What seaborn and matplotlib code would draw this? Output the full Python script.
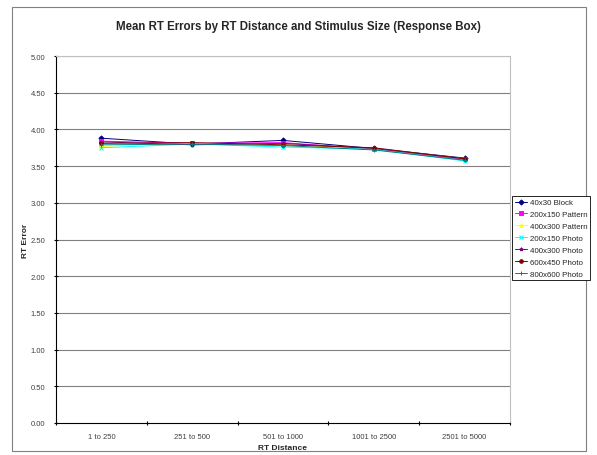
import pandas as pd
import matplotlib.pyplot as plt
import seaborn as sns
from matplotlib.patches import Rectangle

# Dados
distancias = ['1 to 250', '251 to 500', '501 to 1000', '1001 to 2500', '2501 to 5000']
tamanhos = ['40x30 Block', '200x150 Pattern', '400x300 Pattern', '200x150 Photo',
            '400x300 Photo', '600x450 Photo', '800x600 Photo']
bloco_40x30 = [3.88, 3.80, 3.85, 3.74, 3.61]
padrao_200x150 = [3.84, 3.81, 3.82, 3.73, 3.59]
padrao_400x300 = [3.77, 3.81, 3.79, 3.74, 3.60]
foto_200x150 = [3.75, 3.80, 3.76, 3.73, 3.57]
foto_400x300 = [3.83, 3.79, 3.81, 3.74, 3.60]
foto_600x450 = [3.81, 3.82, 3.79, 3.75, 3.60]
foto_800x600 = [3.79, 3.80, 3.78, 3.72, 3.58]

series = [bloco_40x30, padrao_200x150, padrao_400x300, foto_200x150,
          foto_400x300, foto_600x450, foto_800x600]
cores = ['#000080', '#ff00ff', '#ffff00', '#00ffff', '#800080', '#800000', '#008080']
marcadores = ['D', 's', '^', 'x', '*', 'o', '+']

sns.set_theme(style="white")
plt.rcParams['font.family'] = ['Liberation Sans', 'DejaVu Sans']

fig = plt.figure(figsize=(5.97, 4.56), dpi=100)
ax = fig.add_axes([56 / 597, 1 - 424 / 456, (510 - 56) / 597, (424 - 57) / 456])
ax.patch.set_alpha(0)

# borda externa do gráfico (atrás de tudo)
fig.patches.append(Rectangle((12 / 597, 4 / 456), 574 / 597, 444 / 456, transform=fig.transFigure,
                             fill=False, edgecolor='#808080', linewidth=0.8, zorder=-1))

for nome, valores, cor, mk in zip(tamanhos, series, cores, marcadores):
    d = pd.DataFrame({'pos': range(len(distancias)), 'Erro': valores})
    sns.lineplot(data=d, x='pos', y='Erro', color=cor, marker=mk, label=nome,
                 linewidth=0.7, markersize=2.6, markeredgewidth=0.7,
                 markeredgecolor=cor, ax=ax)

for y in [0.5 * k for k in range(1, 11)]:
    ax.axhline(y, color='#808080', linewidth=0.8, zorder=0)

ax.set_ylim(0, 5)
ax.set_xlim(-0.5, 4.5)
ax.set_yticks([0.5 * k for k in range(11)])
ax.set_yticklabels([f'{0.5 * k:.2f}' for k in range(11)], fontsize=5.5, color='#404040')
ax.set_xticks(range(5))
ax.set_xticklabels(distancias, fontsize=5.5, color='#404040')
ax.set_xticks([i - 0.5 for i in range(6)], minor=True)
ax.tick_params(axis='x', which='major', length=0, pad=7)
ax.tick_params(axis='x', which='minor', length=3, color='black', width=0.8, direction='inout', bottom=True)
ax.tick_params(axis='y', length=3, color='black', width=0.8, direction='inout', pad=6, left=True)
for s in ['left', 'bottom']:
    ax.spines[s].set_color('black')
    ax.spines[s].set_linewidth(0.8)
for s in ['right', 'top']:
    ax.spines[s].set_color('#c0c0c0')
    ax.spines[s].set_linewidth(0.8)

ax.set_xlabel('RT Distance', fontsize=6, fontweight='bold', labelpad=3)
ax.set_ylabel('RT Error', fontsize=6, fontweight='bold', labelpad=1)
fig.text(298 / 597, 1 - 27 / 456, 'Mean RT Errors by RT Distance and Stimulus Size (Response Box)',
         fontsize=8.3, fontweight='bold', ha='center', va='center')

leg = ax.legend(loc='upper left', bbox_to_anchor=(512 / 597, 1 - 197 / 456), bbox_transform=fig.transFigure,
                fontsize=5.7, frameon=True, fancybox=False, edgecolor='black', borderpad=0.35,
                labelspacing=0.55, handlelength=1.6, handletextpad=0.3, borderaxespad=0)
leg.get_frame().set_linewidth(0.6)
leg.get_frame().set_facecolor('white')
leg.get_frame().set_alpha(1)

plt.savefig('out.png', dpi=100)
